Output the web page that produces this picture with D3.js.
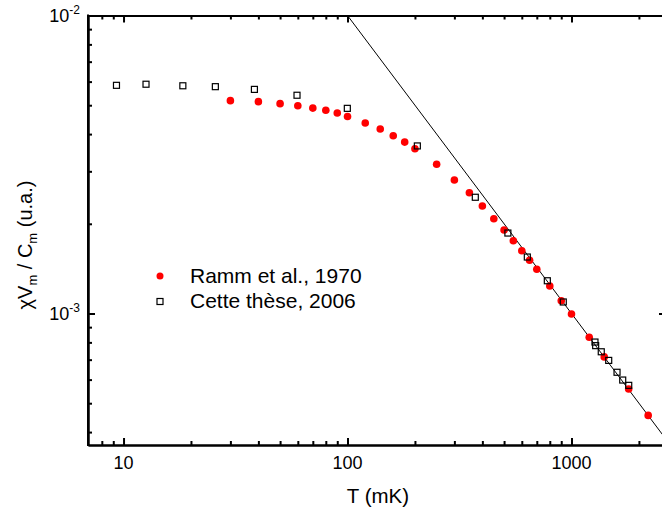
<!DOCTYPE html>
<html><head><meta charset="utf-8">
<script src="https://cdn.jsdelivr.net/npm/d3@7"></script>
<style>
body{margin:0;background:#fff;}
text{font-family:"Liberation Sans",Arial,sans-serif;fill:#000;}
</style></head>
<body><svg id="c" width="662" height="511"></svg>
<script>
// Data
const rammT = [30,40,50,60,70,80,90,100,120,140,160,180,200,250,300,350,400,450,500,550,600,650,700,800,900,1000,1200,1400,1800,2200];
const rammV = [5.18e-3,5.14e-3,5.06e-3,4.98e-3,4.89e-3,4.81e-3,4.71e-3,4.58e-3,4.36e-3,4.16e-3,3.95e-3,3.76e-3,3.57e-3,3.17e-3,2.805e-3,2.543e-3,2.295e-3,2.08e-3,1.906e-3,1.754e-3,1.624e-3,1.509e-3,1.407e-3,1.237e-3,1.104e-3,9.96e-4,8.32e-4,7.15e-4,5.58e-4,4.55e-4];
const theseT = [9.3,12.6,18.4,25.7,38.4,59.5,99.8,205,372,520,635,780,919,1273,1282,1358,1466,1597,1693,1801];
const theseV = [5.83e-3,5.88e-3,5.81e-3,5.77e-3,5.65e-3,5.40e-3,4.88e-3,3.65e-3,2.455e-3,1.862e-3,1.547e-3,1.288e-3,1.093e-3,8.02e-4,7.80e-4,7.44e-4,6.96e-4,6.35e-4,5.98e-4,5.74e-4];
const lineT = [100, 2642];
const lineV = [1e-2, 3.785e-4];
const xMajor = [10,100,1000];
const xMinor = [8,9,20,30,40,50,60,70,80,90,200,300,400,500,600,700,800,900,2000];
const yMajor = [1e-3,1e-2];
const yMajorExp = ["-3","-2"];
const yMinor = [4e-4,5e-4,6e-4,7e-4,8e-4,9e-4,2e-3,3e-3,4e-3,5e-3,6e-3,7e-3,8e-3,9e-3];
const legendLabels = ["Ramm et al., 1970","Cette thèse, 2006"];

const L=88,R=666,T=15.5,B=445;
const x=d3.scaleLog().domain([6.94,2642]).range([L,R]);
const y=d3.scaleLog().domain([3.62e-4,1e-2]).range([B,T]);
const svg=d3.select("#c");

// line
svg.append("path").datum(lineT.map((t,i)=>[t,lineV[i]]))
  .attr("d",d3.line().x(d=>x(d[0])).y(d=>y(d[1])))
  .attr("stroke","#000").attr("stroke-width",1).attr("fill","none");

// circles
svg.append("g").selectAll("circle").data(rammT).join("circle")
  .attr("cx",d=>x(d)).attr("cy",(d,i)=>y(rammV[i])).attr("r",3.8).attr("fill","#ff0000");
// squares
svg.append("g").selectAll("rect").data(theseT).join("rect")
  .attr("x",d=>x(d)-3).attr("y",(d,i)=>y(theseV[i])-3).attr("width",6).attr("height",6)
  .attr("fill","none").attr("stroke","#000").attr("stroke-width",1.2);

function axis(g){g.select(".domain").attr("stroke-width",2);g.selectAll(".tick line").attr("stroke-width",2);g.selectAll("text").remove();}
// bottom
svg.append("g").attr("transform",`translate(0,${B})`).call(d3.axisBottom(x).tickValues(xMinor).tickSize(-4).tickSizeOuter(0)).call(axis);
svg.append("g").attr("transform",`translate(0,${B})`).call(d3.axisBottom(x).tickValues(xMajor).tickSize(-7).tickSizeOuter(0)).call(axis);
// top
svg.append("g").attr("transform",`translate(0,${T})`).call(d3.axisTop(x).tickValues(xMinor).tickSize(-4).tickSizeOuter(0)).call(axis);
svg.append("g").attr("transform",`translate(0,${T})`).call(d3.axisTop(x).tickValues(xMajor).tickSize(-7).tickSizeOuter(0)).call(axis);
// left
svg.append("g").attr("transform",`translate(${L},0)`).call(d3.axisLeft(y).tickValues(yMinor).tickSize(-4).tickSizeOuter(0)).call(axis);
svg.append("g").attr("transform",`translate(${L},0)`).call(d3.axisLeft(y).tickValues(yMajor).tickSize(-7).tickSizeOuter(0)).call(axis);
// right
svg.append("g").attr("transform",`translate(${R},0)`).call(d3.axisRight(y).tickValues(yMinor).tickSize(-4).tickSizeOuter(0)).call(axis);
svg.append("g").attr("transform",`translate(${R},0)`).call(d3.axisRight(y).tickValues(yMajor).tickSize(-7).tickSizeOuter(0)).call(axis);
// corner fix
svg.append("line").attr("x1",L).attr("x2",L).attr("y1",T-1).attr("y2",B+1).attr("stroke","#000").attr("stroke-width",2);

// x tick labels
svg.append("g").selectAll("text").data(xMajor).join("text")
  .attr("x",d=>x(d)).attr("y",B+24).attr("text-anchor","middle").attr("font-size",18).text(d=>d);
// y tick labels
yMajor.forEach((v,i)=>{
  const t=svg.append("text").attr("x",80).attr("y",y(v)+6.5).attr("text-anchor","end").attr("font-size",18);
  t.append("tspan").text("10");
  t.append("tspan").attr("dy",-8).attr("font-size",12).text(yMajorExp[i]);
});
// x title
svg.append("text").attr("x",378).attr("y",503).attr("text-anchor","middle").attr("font-size",20.5).text("T (mK)");
// y title
const yt=svg.append("text").attr("transform","translate(32,245) rotate(-90)").attr("text-anchor","middle").attr("font-size",20);
yt.append("tspan").text("χV");
yt.append("tspan").attr("font-size",13).attr("dy",5).text("m");
yt.append("tspan").attr("dy",-5).text(" / C");
yt.append("tspan").attr("font-size",13).attr("dy",5).text("m");
yt.append("tspan").attr("dy",-5).text(" (u.a.)");

// legend
const lg=svg.append("g");
lg.append("circle").attr("cx",160).attr("cy",276).attr("r",3.5).attr("fill","#ff0000");
lg.append("rect").attr("x",157).attr("y",298.5).attr("width",6).attr("height",6).attr("fill","none").attr("stroke","#000").attr("stroke-width",1.2);
lg.selectAll("text").data(legendLabels).join("text")
  .attr("x",190).attr("y",(d,i)=>282.5+i*25.5).attr("font-size",21).text(d=>d);
</script></body></html>
